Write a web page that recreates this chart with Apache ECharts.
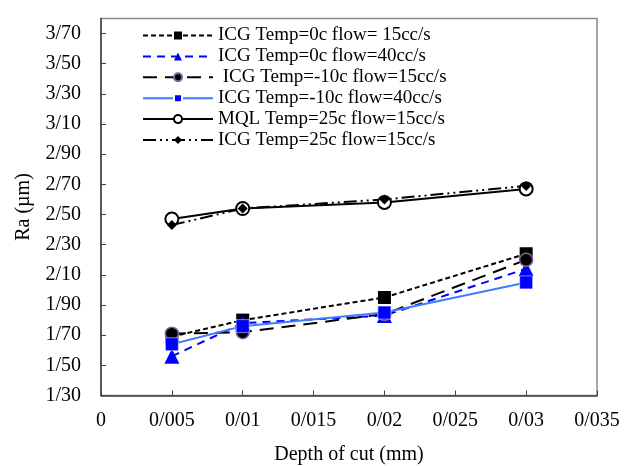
<!DOCTYPE html>
<html>
<head>
<meta charset="utf-8">
<script src="https://cdn.jsdelivr.net/npm/echarts@6/dist/echarts.min.js"></script>
<style>html,body{margin:0;padding:0;background:#fff;}#c{width:624px;height:466px;}</style>
</head>
<body>
<div id="c"></div>
<script>
const depths = [0.005, 0.01, 0.02, 0.03];
const seriesNames = [
  'ICG Temp=0c flow= 15cc/s',
  'ICG Temp=0c flow=40cc/s',
  ' ICG Temp=-10c flow=15cc/s',
  'ICG Temp=-10c flow=40cc/s',
  'MQL Temp=25c flow=15cc/s',
  'ICG Temp=25c flow=15cc/s'
];
const icg0_15 = [1.69, 1.80, 1.95, 2.24];
const icg0_40 = [1.56, 1.78, 1.83, 2.14];
const icgm10_15 = [1.71, 1.72, 1.84, 2.20];
const icgm10_40 = [1.64, 1.76, 1.85, 2.05];
const mql25_15 = [2.47, 2.54, 2.58, 2.67];
const icg25_15 = [2.43, 2.54, 2.60, 2.69];

const pairs = arr => depths.map((d, i) => [d, arr[i]]);
const font = 'Liberation Serif, Times New Roman, serif';

const chart = echarts.init(document.getElementById('c'));
chart.setOption({
  animation: false,
  backgroundColor: '#fff',
  textStyle: { fontFamily: font },
  grid: { left: 101, right: 27, top: 18.5, bottom: 70.5, show: true, borderColor: '#8a8a8a', borderWidth: 1.5,
    containLabel: false, outerBoundsMode: 'none' },
  legend: {
    orient: 'vertical', left: 137, top: 21,
    itemWidth: 70, itemHeight: 10, itemGap: 1.9,
    textStyle: { fontFamily: font, fontSize: 19, color: '#000' },
    data: seriesNames
  },
  xAxis: {
    type: 'value', min: 0, max: 0.035, interval: 0.005,
    name: 'Depth of cut (mm)', nameLocation: 'middle', nameGap: 49,
    nameTextStyle: { fontFamily: font, fontSize: 20, color: '#000' },
    axisLine: { show: true, lineStyle: { color: '#404040', width: 1.5 } },
    axisTick: { show: true, inside: true, length: 5, lineStyle: { color: '#404040' } },
    axisLabel: { margin: 15, fontFamily: font, fontSize: 20, color: '#000',
      formatter: v => v === 0 ? '0' : String(+v.toFixed(3)).replace('.', '/') },
    splitLine: { show: false }
  },
  yAxis: {
    type: 'value', min: 1.3, max: 3.8, interval: 0.2,
    name: 'Ra (µm)', nameLocation: 'middle', nameGap: 67, nameRotate: 90,
    nameTextStyle: { fontFamily: font, fontSize: 20, color: '#000' },
    axisLine: { show: true, lineStyle: { color: '#404040', width: 1.5 } },
    axisTick: { show: true, inside: true, length: 5, lineStyle: { color: '#404040' } },
    axisLabel: { margin: 20, fontFamily: font, fontSize: 20, color: '#000', showMaxLabel: false,
      formatter: v => v.toFixed(2).replace('.', '/') },
    splitLine: { show: false }
  },
  series: [
    { name: seriesNames[0], type: 'line', data: pairs(icg0_15),
      symbol: 'rect', symbolSize: 13,
      itemStyle: { color: '#000' },
      lineStyle: { color: '#000', width: 2, type: [5, 3] } },
    { name: seriesNames[1], type: 'line', data: pairs(icg0_40),
      symbol: 'triangle', symbolSize: 15,
      itemStyle: { color: '#0000ff' },
      lineStyle: { color: '#0000ff', width: 2, type: [8, 6] } },
    { name: seriesNames[2], type: 'line', data: pairs(icgm10_15),
      symbol: 'circle', symbolSize: 13,
      itemStyle: { color: '#000', borderColor: '#7f62a0', borderWidth: 1.5 },
      lineStyle: { color: '#000', width: 2, type: [14, 8] } },
    { name: seriesNames[3], type: 'line', data: pairs(icgm10_40),
      symbol: 'rect', symbolSize: 13,
      itemStyle: { color: '#0000ff', borderColor: '#fff', borderWidth: 0.5 },
      lineStyle: { color: '#3f7cff', width: 2, type: 'solid' } },
    { name: seriesNames[4], type: 'line', data: pairs(mql25_15),
      symbol: 'emptyCircle', symbolSize: 13,
      itemStyle: { color: '#000', borderColor: '#000', borderWidth: 2.5 },
      lineStyle: { color: '#000', width: 2, type: 'solid' } },
    { name: seriesNames[5], type: 'line', data: pairs(icg25_15),
      symbol: 'diamond', symbolSize: 10,
      itemStyle: { color: '#000' },
      lineStyle: { color: '#000', width: 2, type: [13, 4, 2, 4, 2, 4] } }
  ]
});
</script>
</body>
</html>
